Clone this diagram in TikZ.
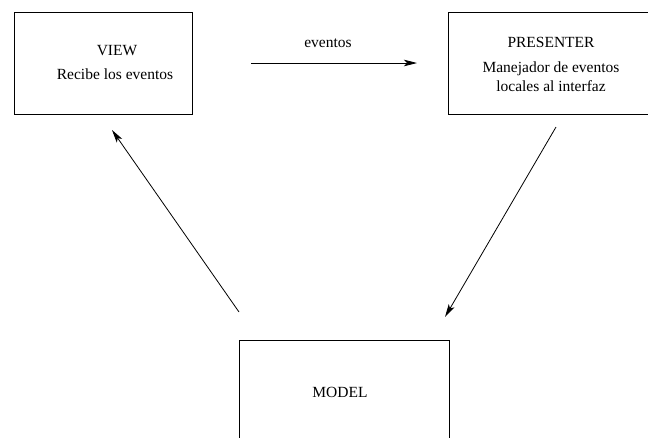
\documentclass[tikz,border=0pt]{standalone}
\usepackage{fontspec}
\setmainfont{Liberation Serif}
\usetikzlibrary{arrows.meta}
\begin{document}
\begin{tikzpicture}[x=1pt,y=-1pt,
  box/.style={draw,line width=0.9pt,rectangle,inner sep=0pt,anchor=north west},
  lbl/.style={anchor=base,inner sep=0pt,font=\fontsize{15.5}{18}\selectfont},
  flow/.style={line width=0.8pt,-{Stealth[length=13pt,width=6.5pt,inset=3pt]}}]
  \useasboundingbox (0,0) rectangle (648,437);
  % boxes
  \node[box,minimum width=178pt,minimum height=102pt] (view) at (14,12) {};
  \node[box,minimum width=210pt,minimum height=102pt] (presenter) at (448,12) {};
  \node[box,minimum width=210pt,minimum height=110pt] (model) at (239,340) {};
  % labels
  \node[lbl] (viewt) at (117,55) {VIEW};
  \node[lbl] (viewd) at (115,79) {Recibe los eventos};
  \node[lbl] (prest) at (551,47) {PRESENTER};
  \node[lbl] (presd1) at (551,72) {Manejador de eventos};
  \node[lbl] (presd2) at (551,91) {locales al interfaz};
  \node[lbl] (modelt) at (340,397) {MODEL};
  \node[lbl] (evt) at (328,47) {eventos};
  % connector end points
  \coordinate (e1) at (251,63);
  \coordinate (e2) at (417,63);
  \coordinate (p1) at (556,127);
  \coordinate (p2) at (445,317);
  \coordinate (m1) at (239,312);
  \coordinate (m2) at (112,130);
  % connectors
  \draw[flow] (e1) -- (e2);
  \draw[flow] (p1) -- (p2);
  \draw[flow] (m1) -- (m2);
\end{tikzpicture}
\end{document}
